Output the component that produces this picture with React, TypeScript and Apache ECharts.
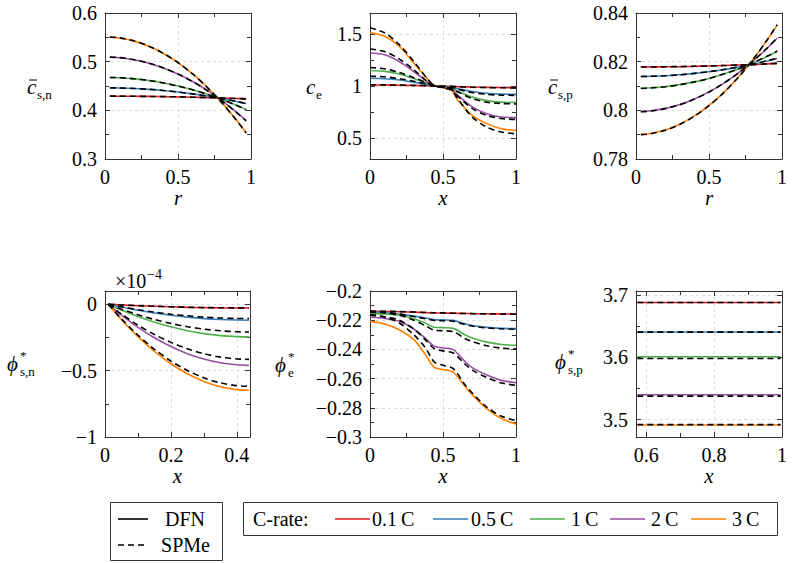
import React, { useEffect, useRef } from 'react';
import * as echarts from 'echarts';

const COLORS = ['#e41a1c', '#377eb8', '#4daf4a', '#984ea3', '#ff7f00'];
const RATE_LABELS = ['0.1\u2009C', '0.5\u2009C', '1\u2009C', '2\u2009C', '3\u2009C'];
const FONT = 'Liberation Serif';

// ---- Plot 1: c_s,n vs r
const rS = [0.033, 0.1, 0.2, 0.3, 0.4, 0.5, 0.6, 0.7, 0.8, 0.9, 0.967];
const csnDFN = [
  [0.4291, 0.4290, 0.4289, 0.4286, 0.4282, 0.4276, 0.4270, 0.4262, 0.4253, 0.4243, 0.4236],
  [0.4462, 0.4459, 0.4448, 0.4431, 0.4407, 0.4376, 0.4338, 0.4293, 0.4242, 0.4183, 0.4140],
  [0.4674, 0.4668, 0.4647, 0.4612, 0.4562, 0.4499, 0.4421, 0.4330, 0.4224, 0.4104, 0.4016],
  [0.5093, 0.5081, 0.5039, 0.4969, 0.4871, 0.4745, 0.4591, 0.4409, 0.4199, 0.3961, 0.3786],
  [0.5504, 0.5485, 0.5422, 0.5316, 0.5169, 0.4980, 0.4748, 0.4474, 0.4158, 0.3800, 0.3537],
];
const csnSPMe = [
  [0.4292, 0.4291, 0.4289, 0.4286, 0.4282, 0.4277, 0.4270, 0.4262, 0.4253, 0.4243, 0.4236],
  [0.4463, 0.4460, 0.4449, 0.4432, 0.4408, 0.4376, 0.4338, 0.4293, 0.4241, 0.4182, 0.4139],
  [0.4676, 0.4670, 0.4649, 0.4613, 0.4563, 0.4499, 0.4421, 0.4329, 0.4223, 0.4103, 0.4014],
  [0.5096, 0.5084, 0.5041, 0.4971, 0.4872, 0.4746, 0.4591, 0.4408, 0.4197, 0.3958, 0.3783],
  [0.5508, 0.5489, 0.5425, 0.5319, 0.5171, 0.4981, 0.4748, 0.4473, 0.4156, 0.3797, 0.3533],
];

// ---- Plot 2: c_e vs x
const xE = [0, 0.1, 0.2, 0.3, 0.4, 0.44, 0.5, 0.56, 0.6, 0.7, 0.8, 0.9, 1];
const ceDFN = [
  [1.010, 1.009, 1.007, 1.005, 1.002, 1.000, 0.998, 0.996, 0.994, 0.990, 0.987, 0.985, 0.984],
  [1.074, 1.070, 1.058, 1.037, 1.012, 1.002, 0.996, 0.990, 0.975, 0.947, 0.930, 0.922, 0.920],
  [1.148, 1.140, 1.115, 1.072, 1.022, 1.004, 0.993, 0.981, 0.950, 0.895, 0.860, 0.845, 0.842],
  [1.316, 1.300, 1.235, 1.139, 1.032, 1.004, 0.988, 0.970, 0.913, 0.800, 0.735, 0.703, 0.697],
  [1.510, 1.477, 1.381, 1.219, 1.058, 1.006, 0.985, 0.955, 0.865, 0.719, 0.639, 0.590, 0.574],
];
const ceSPMe = [
  [1.012, 1.011, 1.009, 1.006, 1.002, 1.000, 0.998, 0.996, 0.993, 0.988, 0.985, 0.983, 0.982],
  [1.094, 1.088, 1.070, 1.045, 1.015, 1.002, 0.994, 0.986, 0.970, 0.937, 0.920, 0.912, 0.910],
  [1.177, 1.165, 1.130, 1.080, 1.025, 1.003, 0.990, 0.976, 0.945, 0.880, 0.845, 0.832, 0.828],
  [1.355, 1.330, 1.260, 1.155, 1.035, 1.004, 0.986, 0.965, 0.905, 0.785, 0.718, 0.688, 0.680],
  [1.558, 1.510, 1.397, 1.235, 1.058, 1.005, 0.982, 0.958, 0.881, 0.703, 0.606, 0.558, 0.542],
];

// ---- Plot 3: c_s,p vs r
const cspDFN = [
  [0.8178, 0.8178, 0.8179, 0.8179, 0.8181, 0.8182, 0.8184, 0.8186, 0.8188, 0.8191, 0.8193],
  [0.8139, 0.8140, 0.8142, 0.8146, 0.8152, 0.8159, 0.8167, 0.8178, 0.8190, 0.8203, 0.8213],
  [0.8091, 0.8093, 0.8097, 0.8106, 0.8117, 0.8131, 0.8149, 0.8170, 0.8194, 0.8222, 0.8242],
  [0.7995, 0.7998, 0.8008, 0.8024, 0.8047, 0.8076, 0.8111, 0.8153, 0.8201, 0.8256, 0.8296],
  [0.7901, 0.7905, 0.7919, 0.7943, 0.7977, 0.8020, 0.8073, 0.8136, 0.8208, 0.8290, 0.8350],
];
const cspSPMe = [
  [0.8178, 0.8178, 0.8179, 0.8180, 0.8181, 0.8182, 0.8184, 0.8186, 0.8188, 0.8191, 0.8193],
  [0.8139, 0.8140, 0.8142, 0.8146, 0.8152, 0.8159, 0.8168, 0.8178, 0.8190, 0.8204, 0.8214],
  [0.8090, 0.8092, 0.8097, 0.8105, 0.8117, 0.8131, 0.8149, 0.8170, 0.8195, 0.8223, 0.8244],
  [0.7994, 0.7997, 0.8007, 0.8023, 0.8046, 0.8075, 0.8111, 0.8153, 0.8202, 0.8257, 0.8298],
  [0.7900, 0.7904, 0.7918, 0.7942, 0.7976, 0.8019, 0.8072, 0.8135, 0.8208, 0.8291, 0.8352],
];

// ---- Plot 4: phi_s,n (x 1e-4) vs x
const xN = [0.01, 0.05, 0.1, 0.15, 0.2, 0.25, 0.3, 0.35, 0.4, 0.437];
const phisnDFN = [
  [0, -0.005, -0.011, -0.015, -0.019, -0.023, -0.025, -0.027, -0.028, -0.028],
  [0, -0.021, -0.045, -0.066, -0.083, -0.097, -0.108, -0.115, -0.119, -0.120],
  [0, -0.044, -0.093, -0.135, -0.170, -0.199, -0.221, -0.236, -0.244, -0.246],
  [0, -0.082, -0.174, -0.252, -0.318, -0.372, -0.413, -0.441, -0.456, -0.460],
  [0, -0.116, -0.244, -0.355, -0.448, -0.524, -0.581, -0.621, -0.643, -0.648],
];
const phisnSPMe = [
  [0, -0.005, -0.010, -0.015, -0.019, -0.022, -0.025, -0.026, -0.027, -0.027],
  [0, -0.019, -0.041, -0.059, -0.075, -0.087, -0.097, -0.103, -0.107, -0.108],
  [0, -0.037, -0.079, -0.115, -0.145, -0.169, -0.187, -0.200, -0.207, -0.209],
  [0, -0.074, -0.157, -0.228, -0.287, -0.335, -0.372, -0.398, -0.412, -0.415],
  [0, -0.110, -0.233, -0.339, -0.428, -0.499, -0.554, -0.592, -0.613, -0.618],
];

// ---- Plot 5: phi_e vs x
const xPE = [0, 0.1, 0.2, 0.3, 0.38, 0.44, 0.5, 0.57, 0.65, 0.7, 0.8, 0.9, 1];
const phieDFN = [
  [-0.2139, -0.2140, -0.2142, -0.2145, -0.2148, -0.2150, -0.2151, -0.2152, -0.2154, -0.2155, -0.2156, -0.2157, -0.2158],
  [-0.2144, -0.2147, -0.2159, -0.2172, -0.2185, -0.2196, -0.2198, -0.2201, -0.2225, -0.2236, -0.2249, -0.2256, -0.2258],
  [-0.2155, -0.2158, -0.2166, -0.2190, -0.2220, -0.2249, -0.2251, -0.2256, -0.2300, -0.2322, -0.2350, -0.2366, -0.2372],
  [-0.2180, -0.2188, -0.2208, -0.2260, -0.2325, -0.2378, -0.2390, -0.2402, -0.2482, -0.2525, -0.2575, -0.2612, -0.2628],
  [-0.2208, -0.2226, -0.2265, -0.2333, -0.2436, -0.2523, -0.2538, -0.2555, -0.2653, -0.2710, -0.2806, -0.2874, -0.2911],
];
const phieSPMe = [
  [-0.2138, -0.2139, -0.2141, -0.2144, -0.2147, -0.2149, -0.2150, -0.2152, -0.2154, -0.2155, -0.2157, -0.2158, -0.2159],
  [-0.2140, -0.2144, -0.2158, -0.2175, -0.2190, -0.2202, -0.2204, -0.2207, -0.2230, -0.2240, -0.2253, -0.2259, -0.2262],
  [-0.2145, -0.2150, -0.2165, -0.2200, -0.2238, -0.2268, -0.2272, -0.2278, -0.2325, -0.2346, -0.2375, -0.2391, -0.2397],
  [-0.2165, -0.2176, -0.2200, -0.2260, -0.2335, -0.2395, -0.2410, -0.2425, -0.2500, -0.2542, -0.2593, -0.2630, -0.2646],
  [-0.2162, -0.2180, -0.2219, -0.2299, -0.2390, -0.2486, -0.2509, -0.2532, -0.2642, -0.2699, -0.2795, -0.2858, -0.2888],
];

// ---- Plot 6: phi_s,p vs x
const xP = [0.574, 0.7, 0.85, 0.996];
const phispDFN = [
  [3.6886, 3.6886, 3.6886, 3.6886],
  [3.6411, 3.6411, 3.6411, 3.6411],
  [3.6011, 3.6011, 3.6011, 3.6011],
  [3.5400, 3.5400, 3.5400, 3.5400],
  [3.4914, 3.4914, 3.4914, 3.4914],
];
const phispSPMe = [
  [3.6884, 3.6884, 3.6884, 3.6884],
  [3.6408, 3.6408, 3.6408, 3.6408],
  [3.5984, 3.5984, 3.5984, 3.5984],
  [3.5378, 3.5378, 3.5378, 3.5378],
  [3.4919, 3.4919, 3.4919, 3.4919],
];

type Rng = { min: number; max: number; step: number; minor: number };
type Panel = {
  grid: { left: number; top: number; width: number; height: number };
  x: Rng; y: Rng; xName: string;
  xs: number[]; dfn: number[][]; spme: number[][];
};

const panels: Panel[] = [
  { grid: { left: 105, top: 13, width: 146, height: 146 }, x: { min: 0, max: 1, step: 0.5, minor: 2 }, y: { min: 0.3, max: 0.6, step: 0.1, minor: 2 }, xName: 'r', xs: rS, dfn: csnDFN, spme: csnSPMe },
  { grid: { left: 370, top: 13, width: 146, height: 146 }, x: { min: 0, max: 1, step: 0.5, minor: 2 }, y: { min: 0.3, max: 1.7, step: 0.5, minor: 2 }, xName: 'x', xs: xE, dfn: ceDFN, spme: ceSPMe },
  { grid: { left: 636, top: 13, width: 146, height: 146 }, x: { min: 0, max: 1, step: 0.5, minor: 2 }, y: { min: 0.78, max: 0.84, step: 0.02, minor: 2 }, xName: 'r', xs: rS, dfn: cspDFN, spme: cspSPMe },
  { grid: { left: 105, top: 291, width: 145, height: 146 }, x: { min: 0, max: 0.44, step: 0.2, minor: 2 }, y: { min: -1, max: 0.1, step: 0.5, minor: 2 }, xName: 'x', xs: xN, dfn: phisnDFN, spme: phisnSPMe },
  { grid: { left: 370, top: 291, width: 146, height: 146 }, x: { min: 0, max: 1, step: 0.5, minor: 2 }, y: { min: -0.3, max: -0.2, step: 0.02, minor: 2 }, xName: 'x', xs: xPE, dfn: phieDFN, spme: phieSPMe },
  { grid: { left: 636, top: 291, width: 146, height: 146 }, x: { min: 0.57, max: 1, step: 0.2, minor: 2 }, y: { min: 3.472, max: 3.707, step: 0.1, minor: 2 }, xName: 'x', xs: xP, dfn: phispDFN, spme: phispSPMe },
];

function fmt(v: number, step: number): string {
  const k = v / step;
  if (Math.abs(k - Math.round(k)) > 1e-6) return '';
  let s = String(parseFloat(v.toFixed(6)));
  if (s === '-0') s = '0';
  return s.replace('-', '\u2212');
}

function scaleCfg(r: Rng) {
  const k = r.min / r.step;
  if (Math.abs(k - Math.round(k)) < 1e-9) return { min: r.min, max: r.max, interval: r.step };
  return { min: r.min, max: r.max, minInterval: r.step, maxInterval: r.step, splitNumber: 3 };
}

const AX = { color: '#333', width: 1 };

function axis(dim: 'x' | 'y', gi: number, r: Rng, main: boolean, name?: string) {
  return {
    type: 'value',
    gridIndex: gi,
    ...scaleCfg(r),
    position: main ? (dim === 'x' ? 'bottom' : 'left') : (dim === 'x' ? 'top' : 'right'),
    axisLine: { show: true, onZero: false, lineStyle: AX },
    axisTick: { show: true, inside: true, length: 5, lineStyle: AX },
    minorTick: { show: true, splitNumber: r.minor, length: 4, lineStyle: AX },
    splitLine: { show: main, lineStyle: { color: '#d4d4d4', width: 0.8, type: [3, 3] } },
    minorSplitLine: { show: false },
    axisLabel: main
      ? { show: true, margin: 8, fontFamily: FONT, fontSize: 20, fontWeight: 'normal', color: '#000', formatter: (v: number) => fmt(v, r.step), hideOverlap: false }
      : { show: false },
    name: main && dim === 'x' ? name : '',
    nameLocation: 'middle',
    nameGap: 28,
    nameTextStyle: { fontFamily: FONT, fontSize: 21, fontStyle: 'italic', color: '#000' },
    silent: true,
  };
}

type YLab = { x: number; y: number; main: string; bar?: boolean; sub: string; sup?: string; w: number };
const yLabels: YLab[] = [
  { x: 27, y: 87, main: 'c', bar: true, sub: 's,n', w: 10 },
  { x: 306, y: 87, main: 'c', sub: 'e', w: 10 },
  { x: 548, y: 87, main: 'c', bar: true, sub: 's,p', w: 10 },
  { x: 7, y: 364, main: '\u03D5', sup: '*', sub: 's,n', w: 13 },
  { x: 275, y: 365, main: '\u03D5', sup: '*', sub: 'e', w: 13 },
  { x: 555, y: 362, main: '\u03D5', sup: '*', sub: 's,p', w: 13 },
];

function buildGraphic() {
  const g: any[] = [];
  const txt = (x: number, y: number, text: string, size: number, italic = false, align = 'left') => ({
    type: 'text', x, y, silent: true,
    style: { text, fontFamily: FONT, fontSize: size, fontStyle: italic ? 'italic' : 'normal', fill: '#000', textAlign: align, textVerticalAlign: 'middle' },
  });
  const line = (x1: number, y1: number, x2: number, y2: number, color: string, width: number, dash?: number[]) => ({
    type: 'line', silent: true,
    shape: { x1, y1, x2, y2 },
    style: { stroke: color, lineWidth: width, lineDash: dash },
  });
  yLabels.forEach((l) => {
    g.push(txt(l.x, l.y, l.main, 21, true));
    if (l.bar) g.push(line(l.x + 2, l.y - 7, l.x + 10, l.y - 7, '#000', 1));
    if (l.sup) g.push(txt(l.x + l.w, l.y - 9, l.sup, 13));
    g.push(txt(l.x + l.w, l.y + 7, l.sub, 13));
  });
  // x10^-4 multiplier
  g.push(txt(115, 281, '\u00D710', 20));
  g.push(txt(147, 274, '\u22124', 14));

  // Legend 1: models
  g.push({ type: 'rect', silent: true, shape: { x: 110.5, y: 502.5, width: 112, height: 58 }, style: { fill: '#fff', stroke: '#333', lineWidth: 1 } });
  g.push(line(118, 519, 148, 519, '#000', 1.6));
  g.push(txt(185, 519, 'DFN', 20, false, 'center'));
  g.push(line(118, 545, 148, 545, '#000', 1.6, [6, 4]));
  g.push(txt(185.5, 545, 'SPMe', 20, false, 'center'));

  // Legend 2: C-rates
  g.push({ type: 'rect', silent: true, shape: { x: 243.5, y: 502.5, width: 534, height: 33 }, style: { fill: '#fff', stroke: '#333', lineWidth: 1 } });
  g.push(txt(253, 519, 'C-rate:', 20));
  const lx = [335, 433, 530, 610, 691];
  const tx = [372, 471, 571, 651, 732];
  COLORS.forEach((c, i) => {
    g.push(line(lx[i], 519, lx[i] + 35, 519, c, 1.6));
    g.push(txt(tx[i], 519, RATE_LABELS[i], 20));
  });
  return g;
}

export default function App() {
  const ref = useRef<HTMLDivElement>(null);
  useEffect(() => {
    if (!ref.current) return;
    const chart = echarts.init(ref.current, undefined, { renderer: 'svg' });
    const series: any[] = [];
    panels.forEach((p, gi) => {
      for (let k = 0; k < 5; k++) {
        series.push({
          type: 'line', xAxisIndex: 2 * gi, yAxisIndex: 2 * gi,
          data: p.xs.map((x, i) => [x, p.dfn[k][i]]),
          showSymbol: false, symbol: 'none', smooth: 0.3,
          lineStyle: { color: COLORS[k], width: 1.6, type: 'solid' },
          z: 2, silent: true,
        });
        series.push({
          type: 'line', xAxisIndex: 2 * gi, yAxisIndex: 2 * gi,
          data: p.xs.map((x, i) => [x, p.spme[k][i]]),
          showSymbol: false, symbol: 'none', smooth: 0.3,
          lineStyle: { color: '#000', width: 1.6, type: [6, 4] },
          z: 3, silent: true,
        });
      }
    });
    const xAxis: any[] = [];
    const yAxis: any[] = [];
    panels.forEach((p, gi) => {
      xAxis.push(axis('x', gi, p.x, true, p.xName));
      xAxis.push(axis('x', gi, p.x, false));
      yAxis.push(axis('y', gi, p.y, true));
      yAxis.push(axis('y', gi, p.y, false));
    });
    chart.setOption({
      animation: false,
      backgroundColor: '#fff',
      textStyle: { fontFamily: FONT },
      grid: panels.map((p) => ({ ...p.grid, containLabel: false })),
      xAxis,
      yAxis,
      series,
      graphic: buildGraphic(),
    });
    return () => chart.dispose();
  }, []);
  return <div ref={ref} style={{ position: 'absolute', left: 0, top: 0, width: 795, height: 563 }} />;
}
